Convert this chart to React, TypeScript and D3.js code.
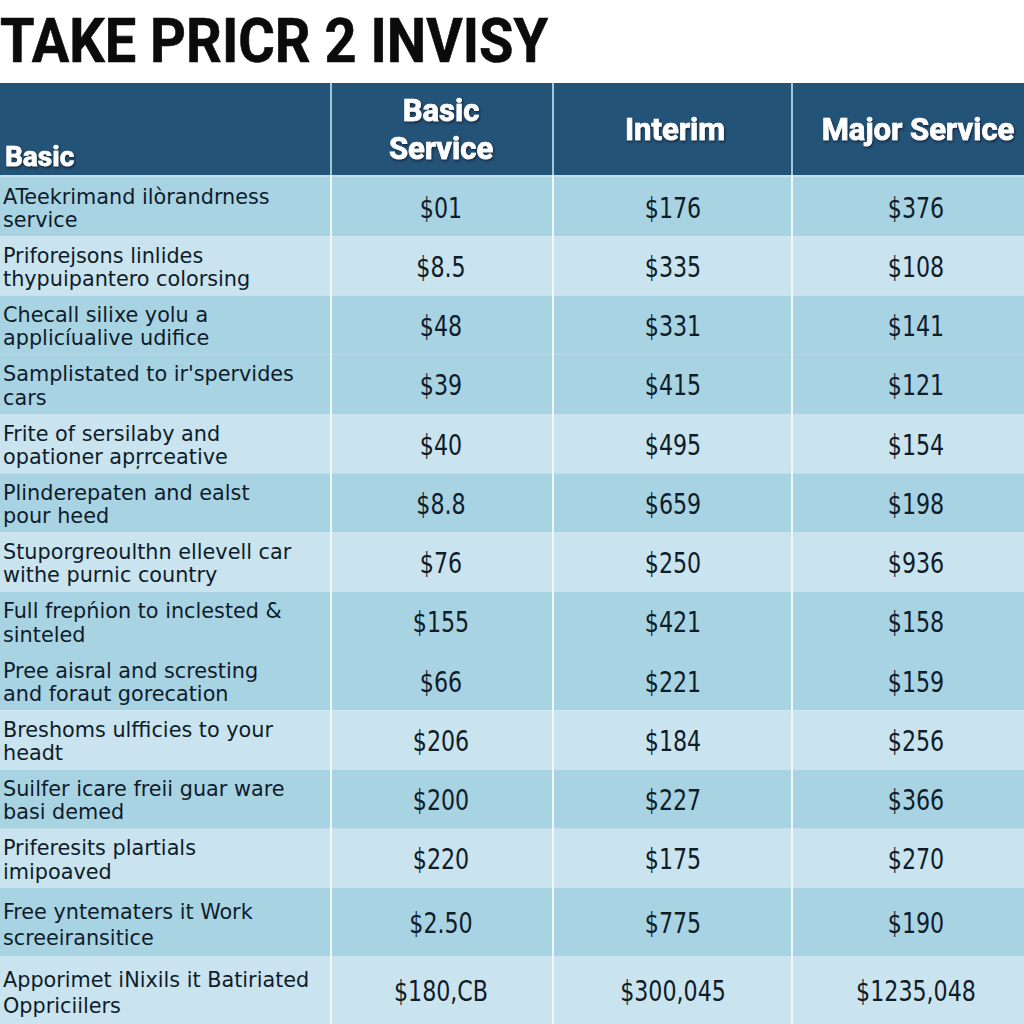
import React from "react";
import * as d3 from "d3";

const title = "TAKE PRICR 2 INVISY";
const headers = ["Basic", "Basic\nService", "Interim", "Major Service"];
const categories = [
  "ATeekrimand ilòrandrness\nservice",
  "Priforejsons linlides\nthypuipantero colorsing",
  "Checall silixe yolu a\napplicíualive udifice",
  "Samplistated to ir'spervides\ncars",
  "Frite of sersilaby and\nopationer apŗrceative",
  "Plinderepaten and ealst\npour heed",
  "Stuporgreoulthn ellevell car\nwithe purnic country",
  "Full frepńion to inclested &\nsinteled",
  "Pree aisral and scresting\nand foraut gorecation",
  "Breshoms ulfficies to your\nheadt",
  "Suilfer icare freii guar ware\nbasi demed",
  "Priferesits plartials\nimipoaved",
  "Free yntematers it Work\nscreeiransitice",
  "Apporimet iNixils it Batiriated\nOppriciilers",
];
const basicService = ["$01", "$8.5", "$48", "$39", "$40", "$8.8", "$76", "$155", "$66", "$206", "$200", "$220", "$2.50", "$180,CB"];
const interim = ["$176", "$335", "$331", "$415", "$495", "$659", "$250", "$421", "$221", "$184", "$227", "$175", "$775", "$300,045"];
const majorService = ["$376", "$108", "$141", "$121", "$154", "$198", "$936", "$158", "$159", "$256", "$366", "$270", "$190", "$1235,048"];

const lightRows = new Set([1, 4, 6, 9, 11, 13]);

export default function App() {
  const W = 1024, H = 1024;
  const y = d3.scaleLinear().domain([0, 12, 14]).range([177, 888, 1024]);
  const colEdges = [0, 331, 553, 792, 1024];
  const colCenters = [0, 441, 673, 916];
  const valueCols = [basicService, interim, majorService];
  const headerTop = 83, headerBottom = 175;
  const HEADER = "#245378";
  const MED = "#a8d3e3";
  const LIGHT = "#c9e4ee";
  const TEXT = "#0f1c2a";

  return (
    <svg width={W} height={H} style={{ position: "absolute", left: 0, top: 0, background: "#fff" }}>
      <defs>
        <filter id="sh" x="-10%" y="-20%" width="120%" height="140%">
          <feDropShadow dx="1" dy="1.5" stdDeviation="1" floodColor="#0a1a2a" floodOpacity="0.8" />
        </filter>
      </defs>
      <rect x={0} y={0} width={W} height={H} fill="#fff" />
      <text x={0} y={62} fontFamily="Roboto, sans-serif" fontWeight={700} fontSize={62}
        textLength={548} lengthAdjust="spacingAndGlyphs" fill="#0b0b0b" stroke="#0b0b0b" strokeWidth={0.6}>{title}</text>

      {/* header */}
      <rect x={0} y={headerTop} width={W} height={headerBottom - headerTop} fill={HEADER} />
      <rect x={0} y={headerBottom} width={W} height={2} fill="#bfe0ec" />

      {/* rows */}
      {categories.map((c, i) => {
        const top = y(i), bot = y(i + 1), h = bot - top;
        const lines = c.split("\n");
        return (
          <g key={i}>
            <rect x={0} y={top} width={W} height={h} fill={lightRows.has(i) ? LIGHT : MED} />
            {lines.map((ln, j) => (
              <text key={j} transform={`translate(3,${top + h * (j === 0 ? 0.45 : 0.84)}) scale(1.05,1)`}
                fontFamily="'DejaVu Sans Condensed', 'DejaVu Sans', sans-serif" fontSize={22} fill={TEXT}>{ln}</text>
            ))}
            {valueCols.map((col, k) => (
              <text key={k} transform={`translate(${colCenters[k + 1]},${top + h / 2 + 11}) scale(0.88,1)`} textAnchor="middle"
                fontFamily="'DejaVu Sans Condensed', sans-serif" fontSize={28} fill={TEXT}>{col[i]}</text>
            ))}
          </g>
        );
      })}

      {/* column dividers */}
      {colEdges.slice(1, 4).map((x, i) => (
        <g key={i}>
          <line x1={x} x2={x} y1={headerTop} y2={headerBottom} stroke="#9fc8dc" strokeWidth={2} />
          <line x1={x} x2={x} y1={headerBottom} y2={H} stroke="#eef7fa" strokeWidth={2} />
        </g>
      ))}

      {/* header labels */}
      <g fontFamily="Roboto, sans-serif" fontWeight={700} fill="#ffffff" filter="url(#sh)" stroke="#ffffff" strokeWidth={0.7}>
        <text x={5} y={166} fontSize={28}>{headers[0]}</text>
        <text x={colCenters[1]} textAnchor="middle" fontSize={31}>
          {headers[1].split("\n").map((ln, j) => (
            <tspan key={j} x={colCenters[1]} y={j === 0 ? 121 : 159}>{ln}</tspan>
          ))}
        </text>
        <text x={675} y={140} textAnchor="middle" fontSize={31}>{headers[2]}</text>
        <text x={918} y={140} textAnchor="middle" fontSize={31}>{headers[3]}</text>
      </g>
    </svg>
  );
}
